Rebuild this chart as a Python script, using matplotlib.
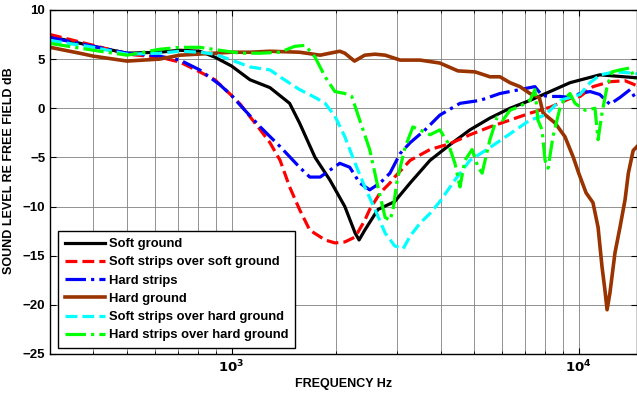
import numpy as np
import matplotlib
matplotlib.use("Agg")
import matplotlib.pyplot as plt
from matplotlib.ticker import LogLocator, NullFormatter

plt.rcParams['font.family'] = ['Liberation Sans', 'DejaVu Sans']
plt.rcParams['font.weight'] = 'bold'

# frequency (Hz) / level (dB)
soft_f = [300, 400, 500, 620, 710, 810, 895, 1000, 1130, 1290, 1470, 1570, 1740, 1920,
          2120, 2270, 2330, 2420, 2640, 2950, 3270, 3730, 4260, 4860, 5550, 6340, 7240,
          8270, 9440, 11500, 14700]
soft_db = [7.3, 6.3, 5.6, 5.7, 5.9, 5.8, 5.2, 4.3, 2.9, 2.1, 0.5, -1.5, -5.0, -7.3,
           -10.0, -12.7, -13.4, -12.4, -10.3, -9.5, -7.6, -5.3, -3.7, -2.2, -1.0, 0.0, 0.8,
           1.7, 2.6, 3.4, 3.1]

softstrip_f = [300, 400, 500, 620, 710, 810, 895, 1000, 1060, 1210, 1290, 1380, 1470, 1570,
               1680, 1860, 1985, 2120, 2270, 2420, 2500, 2680, 2860, 2950, 3270, 3730, 4260,
               4860, 5550, 6340, 7240, 8270, 9440, 10090, 11000, 12300, 13600, 14700]
softstrip_db = [7.5, 6.4, 5.5, 5.2, 4.7, 3.7, 2.9, 1.3, 0.4, -2.2, -3.5, -5.3, -8.0, -10.3,
                -12.4, -13.4, -13.7, -13.6, -13.1, -11.4, -10.3, -8.6, -7.6, -7.0, -5.3, -4.2, -3.6,
                -2.7, -1.9, -1.2, -0.5, 0.1, 1.0, 1.2, 2.2, 2.7, 2.8, 2.3]

hardstrip_f = [300, 400, 500, 620, 710, 810, 925, 1000, 1060, 1210, 1380, 1570, 1680, 1800,
               1920, 2050, 2190, 2340, 2500, 2680, 2860, 3060, 3270, 3610, 3980, 4550, 5200,
               5930, 6770, 7480, 7840, 8270, 8840, 9440, 10090, 10780, 11500, 12300, 13150,
               14060, 14700]
hardstrip_db = [7.2, 6.3, 5.6, 5.3, 4.9, 3.9, 2.4, 1.3, 0.3, -1.9, -3.9, -6.0, -7.0, -7.0,
                -6.3, -5.6, -6.0, -7.6, -8.3, -7.6, -6.6, -4.6, -3.5, -2.2, -0.7, 0.5, 0.8,
                1.5, 1.9, 2.2, 1.3, 1.2, 1.2, 1.1, 1.5, 1.7, 1.4, 0.4, 1.1, 1.9, 0.8]

hard_f = [300, 365, 400, 500, 620, 710, 1000, 1130, 1290, 1570, 1800, 1920, 2050, 2120,
          2260, 2420, 2590, 2770, 3060, 3490, 3980, 4490, 5030, 5550, 5930, 6340, 6770, 7240,
          7700, 7900, 8550, 9130, 9650, 10000, 10500, 10990, 11370, 11670, 11900, 12070,
          12300, 12720, 13150, 13600, 13900, 14350, 14720]
hard_db = [6.2, 5.6, 5.3, 4.8, 5.0, 5.4, 5.7, 5.7, 5.8, 5.7, 5.4, 5.6, 5.8, 5.6,
           4.8, 5.4, 5.5, 5.4, 4.9, 4.9, 4.6, 3.8, 3.7, 3.2, 3.2, 2.6, 2.2, 1.5,
           1.1, -0.5, -1.5, -2.9, -5.0, -6.6, -8.6, -9.6, -12.1, -16.1, -18.5, -20.5,
           -18.8, -14.7, -12.1, -9.3, -6.6, -4.3, -3.9]

softhard_f = [300, 400, 500, 620, 710, 810, 895, 1000, 1130, 1290, 1420, 1570, 1740, 1860,
              1985, 2120, 2270, 2420, 2590, 2770, 2950, 3120, 3270, 3490, 3730, 3980, 4400,
              4860, 5550, 6340, 7240, 8000, 8840, 10090, 10780, 11520, 12720, 14060, 14720]
softhard_db = [6.9, 6.2, 5.5, 5.6, 5.8, 5.7, 5.5, 4.9, 4.2, 3.9, 2.9, 1.9, 1.1, 0.5,
               -0.8, -2.9, -5.6, -8.0, -10.3, -12.7, -14.0, -14.3, -13.0, -11.7, -10.7, -9.5, -7.3,
               -5.3, -4.0, -2.6, -1.2, -0.7, 0.8, 1.4, 2.6, 3.4, 3.7, 3.6, 3.5]

hardhard_f = [300, 400, 500, 620, 710, 810, 925, 1060, 1210, 1380, 1520, 1630, 1740, 1860,
              1985, 2120, 2220, 2340, 2500, 2640, 2770, 2860, 2920, 3000, 3160, 3330, 3490,
              3730, 3980, 4200, 4400, 4550, 4700, 4930, 5130, 5270, 5550, 5820, 6050, 6340,
              6770, 7240, 7480, 7630, 7840, 8000, 8160, 8430, 8840, 9130, 9440, 9760, 10430,
              11140, 11370, 11670, 12070, 12470, 13150, 14060, 14530]
hardhard_db = [6.6, 5.9, 5.4, 6.0, 6.2, 6.2, 5.9, 5.6, 5.6, 5.7, 6.3, 6.4, 5.2, 3.2,
               1.7, 1.5, 1.2, -1.2, -4.2, -8.0, -11.1, -11.4, -10.3, -7.3, -4.0, -1.9, -2.2,
               -2.7, -2.2, -3.5, -5.6, -8.0, -5.3, -4.2, -6.0, -6.6, -3.2, -0.9, -1.2, -0.2,
               0.2, 0.8, 1.9, -1.2, -2.2, -5.3, -6.1, -2.9, 0.1, 1.0, 1.5, 0.5, -0.2,
               0.0, -3.2, -0.5, 2.2, 3.7, 3.9, 4.1, 2.9]

fig = plt.figure(figsize=(6.37, 3.95), dpi=100)
ax = fig.add_axes([0.0785, 0.1038, 0.9215, 0.871])

lw = 2.3
ax.semilogx(soft_f, soft_db, '-', color='black', lw=lw, label='Soft ground')
ax.semilogx(softstrip_f, softstrip_db, '--', color='red', lw=lw, label='Soft strips over soft ground')
ax.semilogx(hardstrip_f, hardstrip_db, '-.', color='blue', lw=lw, label='Hard strips')
ax.semilogx(hard_f, hard_db, '-', color=(0.6, 0.2, 0.0), lw=lw + 0.3, label='Hard ground')
ax.semilogx(softhard_f, softhard_db, '--', color='cyan', lw=lw, label='Soft strips over hard ground')
ax.semilogx(hardhard_f, hardhard_db, '-.', color='#00ff00', lw=lw, label='Hard strips over hard ground')

ax.set_xlim(300, 14720)
ax.set_ylim(-25, 10)
ax.set_yticks(np.arange(-25, 11, 5))
ax.set_xticks([1000, 10000])
ax.set_xticklabels([r'$\mathbf{10^{3}}$', r'$\mathbf{10^{4}}$'])
ax.xaxis.set_minor_locator(LogLocator(base=10, subs=np.arange(2, 10)))
ax.xaxis.set_minor_formatter(NullFormatter())
ax.grid(True, which='both', axis='x', color='0.5', lw=0.6)
ax.grid(True, which='major', axis='y', color='0.5', lw=0.6)
ax.tick_params(which='both', direction='in', top=True, right=True, labelsize=9.5)
ax.tick_params(which='major', length=4)
ax.tick_params(which='minor', length=2.5)
for s in ax.spines.values():
    s.set_linewidth(1.0)

ax.set_xlabel('FREQUENCY Hz', fontsize=9, fontweight='bold', labelpad=2)
ax.set_ylabel('SOUND LEVEL RE FREE FIELD dB', fontsize=9, fontweight='bold', labelpad=2)
ax.yaxis.set_label_coords(-0.06, 0.532)

leg = ax.legend(loc='lower left', bbox_to_anchor=(0.0136, 0.0174), borderaxespad=0,
                fancybox=False, edgecolor='black', framealpha=1, handlelength=3.1,
                prop={'size': 9.4, 'weight': 'bold'}, labelspacing=0.47,
                handletextpad=0.3, borderpad=0.5)
leg.get_frame().set_linewidth(1.0)

fig.savefig('out.png', dpi=100)
